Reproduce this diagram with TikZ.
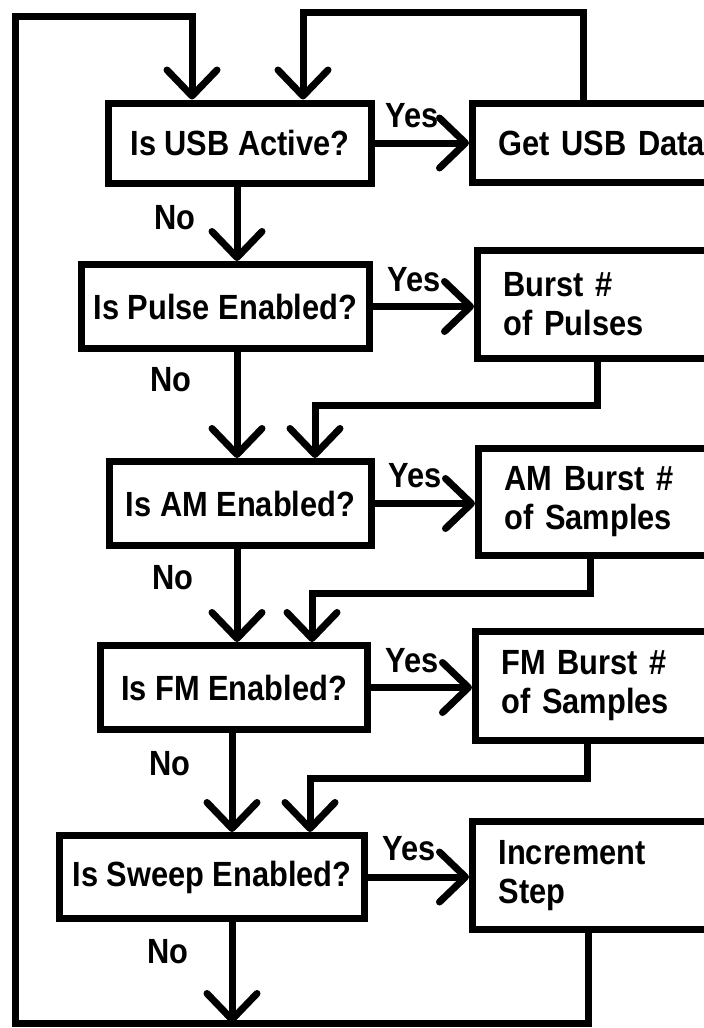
\documentclass[tikz,border=0pt]{standalone}
\usepackage{fontspec}
\setmainfont{Liberation Sans}[FakeStretch=0.88]
\usetikzlibrary{arrows.meta,calc}

\begin{document}
\begin{tikzpicture}[x=1pt, y=-1pt, line width=7pt,
    font=\fontsize{35}{39}\selectfont\bfseries,
    flow/.style={-{Straight Barb[length=26pt,width=50pt,round]}},
    qbox/.style={draw, align=center, inner sep=0pt},
    abox/.style={draw, anchor=west, align=left, text width=240pt, inner xsep=26pt},
    lbl/.style={inner sep=0pt}]
    \useasboundingbox (0,0) rectangle (704,1028);
    \clip (0,0) rectangle (704,1028);

    % decision boxes
    \node[qbox, minimum width=263pt, minimum height=80pt] (usb) at (240,143) {Is USB Active?};
    \node[qbox, minimum width=288pt, minimum height=84pt] (pulse) at (225.5,306.5) {Is Pulse Enabled?};
    \node[qbox, minimum width=262pt, minimum height=84pt] (am) at (240.5,503.5) {Is AM Enabled?};
    \node[qbox, minimum width=267pt, minimum height=84pt] (fm) at (234,687.5) {Is FM Enabled?};
    \node[qbox, minimum width=305pt, minimum height=83pt] (sweep) at (212,877) {Is Sweep Enabled?};

    % action boxes, cut by the right edge
    \node[abox, minimum height=79pt] (getusb) at (469,143) {Get USB Data};
    \node[abox, minimum height=108pt] (burst) at (474,304.5) {Burst \#\\of Pulses};
    \node[abox, minimum height=107pt] (amburst) at (475,502) {AM Burst \#\\of Samples};
    \node[abox, minimum height=109pt] (fmburst) at (472,686) {FM Burst \#\\of Samples};
    \node[abox, minimum height=108pt] (incr) at (469,875.5) {Increment\\Step};

    \coordinate (colA) at (237,0);
    \coordinate (colB) at (232,0);
    \coordinate (top1) at (192,16);
    \coordinate (top2) at (303,12);
    \coordinate (bl) at (15,1023);
    \coordinate (j1) at (315,405);
    \coordinate (j2) at (312,593);
    \coordinate (j3) at (310,778);

    % yes branches
    \draw[flow] (usb.east) -- (usb.east -| getusb.west)
        node[lbl, pos=1, xshift=-57pt, yshift=27pt] {Yes};
    \draw[flow] (pulse.east) -- (pulse.east -| burst.west)
        node[lbl, pos=1, xshift=-60pt, yshift=27pt] {Yes};
    \draw[flow] (am.east) -- (am.east -| amburst.west)
        node[lbl, pos=1, xshift=-60pt, yshift=28pt] {Yes};
    \draw[flow] (fm.east) -- (fm.east -| fmburst.west)
        node[lbl, pos=1, xshift=-60pt, yshift=27pt] {Yes};
    \draw[flow] (sweep.east) -- (sweep.east -| incr.west)
        node[lbl, pos=1, xshift=-60pt, yshift=28pt] {Yes};

    % no branches
    \draw[flow] (usb.south -| colA) -- (pulse.north -| colA)
        node[lbl, pos=0.42, left=38pt] {No};
    \draw[flow] (pulse.south -| colA) -- (am.north -| colA)
        node[lbl, pos=0.26, left=42pt] {No};
    \draw[flow] (am.south -| colA) -- (fm.north -| colA)
        node[lbl, pos=0.31, left=40pt] {No};
    \draw[flow] (fm.south -| colB) -- (sweep.north -| colB)
        node[lbl, pos=0.31, left=38pt] {No};
    \draw[flow] (sweep.south -| colB) -- (bl -| colB)
        node[lbl, pos=0.29, left=40pt] {No};

    % returns from the action boxes
    \draw[flow] ($(getusb.north west)+(114,0)$) |- (top2) -- (top2 |- usb.north);
    \draw[flow] ($(burst.south west)+(123,0)$) |- (j1) -- (j1 |- am.north);
    \draw[flow] ($(amburst.south west)+(115,0)$) |- (j2) -- (j2 |- fm.north);
    \draw[flow] ($(fmburst.south west)+(115,0)$) |- (j3) -- (j3 |- sweep.north);
    \draw[flow] ($(incr.south west)+(119,0)$) |- (bl) |- (top1) -- (top1 |- usb.north);
\end{tikzpicture}
\end{document}
